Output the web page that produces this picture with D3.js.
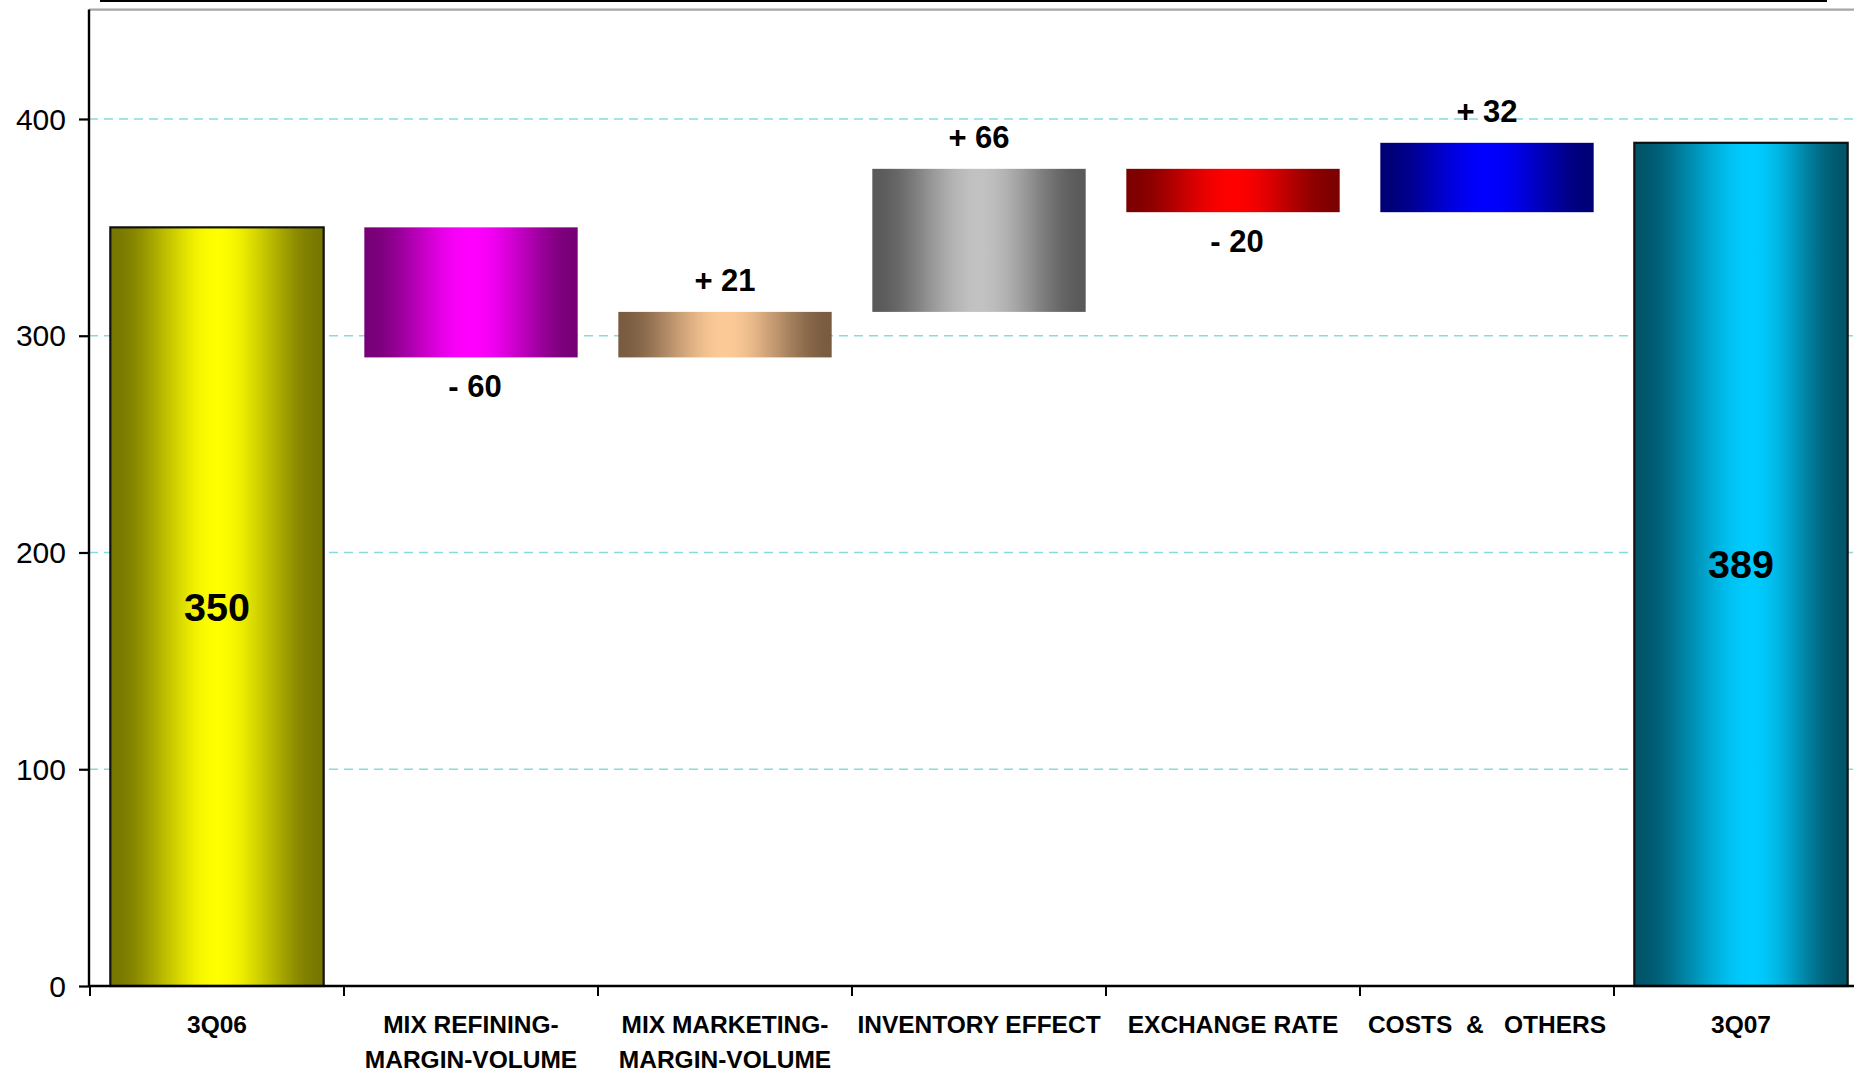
<!DOCTYPE html>
<html>
<head>
<meta charset="utf-8">
<script src="https://cdn.jsdelivr.net/npm/d3@7"></script>
<style>
  html, body { margin: 0; padding: 0; background: #fff; }
  svg { display: block; }
</style>
</head>
<body>
<div id="chart"></div>
<script>
// ---- data ----
const categories = ["3Q06", "MIX REFINING", "MIX MARKETING", "INVENTORY EFFECT", "EXCHANGE RATE", "COSTS & OTHERS", "3Q07"];
const categoryLines = [
  ["3Q06"],
  ["MIX REFINING-", "MARGIN-VOLUME"],
  ["MIX MARKETING-", "MARGIN-VOLUME"],
  ["INVENTORY EFFECT"],
  ["EXCHANGE RATE"],
  ["COSTS  &   OTHERS"],
  ["3Q07"]
];
const values = [350, -60, 21, 66, -20, 32, 389];
const barKinds = ["total", "delta", "delta", "delta", "delta", "delta", "total"];
const yTicks = [0, 100, 200, 300, 400];
const gridValues = [100, 200, 300, 400];
const yMax = 450;

// ---- style ----
const palette = [
  { edge: "#767600", mid: "#ffff00", peak: 0.5 },
  { edge: "#760076", mid: "#ff00ff", peak: 0.5 },
  { edge: "#785b40", mid: "#fdca97", peak: 0.5 },
  { edge: "#595959", mid: "#c2c2c2", peak: 0.5 },
  { edge: "#7c0000", mid: "#ff0000", peak: 0.5 },
  { edge: "#000076", mid: "#0000ff", peak: 0.5 },
  { edge: "#005468", mid: "#00ccff", peak: 0.55 }
];
const W = 1854, H = 1071;
const plot = { left: 89, bandStart: 90, bottom: 986, top: 10.6 };
const step = 254;

const svg = d3.select("#chart").append("svg")
  .attr("width", W).attr("height", H)
  .style("font-family", "'Liberation Sans', Arial, sans-serif");

svg.append("rect").attr("width", W).attr("height", H).attr("fill", "#fff");

// gradients
const defs = svg.append("defs");
const smooth = t => t * t * (3 - 2 * t);
palette.forEach((p, i) => {
  const g = defs.append("linearGradient").attr("id", "grad" + i)
    .attr("x1", "0%").attr("x2", "100%").attr("y1", "0%").attr("y2", "0%");
  const interp = d3.interpolateRgb(p.edge, p.mid);
  const n = 24;
  for (let k = 0; k <= n; k++) {
    const off = k / n;
    let t;
    if (off <= p.peak) t = off / p.peak; else t = (1 - off) / (1 - p.peak);
    g.append("stop").attr("offset", off).attr("stop-color", interp(smooth(t)));
  }
});

// scales
const x = d3.scaleBand()
  .domain(categories)
  .range([plot.bandStart, plot.bandStart + step * categories.length])
  .paddingInner(0.16)
  .paddingOuter(0.08);
const y = d3.scaleLinear().domain([0, yMax]).range([plot.bottom, plot.top]);

// running totals
let running = 0;
const bars = categories.map((c, i) => {
  let lo, hi;
  if (barKinds[i] === "total") {
    lo = 0; hi = values[i]; running = values[i];
  } else {
    const start = running, end = running + values[i];
    lo = Math.min(start, end); hi = Math.max(start, end); running = end;
  }
  return { cat: c, i, lo, hi, v: values[i], kind: barKinds[i] };
});

// top decorative lines
svg.append("line").attr("x1", 100).attr("x2", 1827).attr("y1", 1).attr("y2", 1)
  .attr("stroke", "#000").attr("stroke-width", 2);
svg.append("line").attr("x1", plot.left).attr("x2", W).attr("y1", y(yMax) - 1).attr("y2", y(yMax) - 1)
  .attr("stroke", "#a6a6a6").attr("stroke-width", 2.2);

// gridlines
svg.append("g").selectAll("line").data(gridValues).join("line")
  .attr("x1", plot.left).attr("x2", W)
  .attr("y1", d => y(d)).attr("y2", d => y(d))
  .attr("stroke", "#86dcdc").attr("stroke-width", 1.6)
  .attr("stroke-dasharray", "9,6");

// bars
svg.append("g").selectAll("rect").data(bars).join("rect")
  .attr("x", d => x(d.cat))
  .attr("width", x.bandwidth())
  .attr("y", d => y(d.hi))
  .attr("height", d => y(d.lo) - y(d.hi))
  .attr("fill", d => `url(#grad${d.i})`)
  .attr("stroke", d => d.kind === "total" ? "#111" : "none")
  .attr("stroke-width", 2.2);

// value labels
const fmtDelta = v => (v < 0 ? "- " : "+ ") + Math.abs(v);
svg.append("g").selectAll("text").data(bars).join("text")
  .attr("x", d => x(d.cat) + x.bandwidth() / 2 + (d.kind === "delta" && d.v < 0 ? 4 : 0))
  .attr("y", d => {
    if (d.kind === "total") return (y(d.lo) + y(d.hi)) / 2 + 14;
    return d.v >= 0 ? y(d.hi) - 21 : y(d.lo) + 40;
  })
  .attr("text-anchor", "middle")
  .attr("font-weight", "bold")
  .attr("font-size", d => d.kind === "total" ? 39.5 : 31)
  .attr("fill", "#000")
  .style("white-space", "pre")
  .text(d => d.kind === "total" ? String(d.v) : fmtDelta(d.v));

// y axis
const yAxis = d3.axisLeft(y).tickValues(yTicks).tickSize(10).tickPadding(13).tickFormat(d3.format("d"));
const gy = svg.append("g").attr("transform", `translate(${plot.left},0)`).call(yAxis);
gy.select(".domain").remove();
gy.selectAll(".tick line").attr("stroke", "#000").attr("stroke-width", 2.2);
gy.selectAll(".tick text").attr("font-size", 30).attr("fill", "#000")
  .attr("font-family", "'Liberation Sans', Arial, sans-serif").attr("dy", "0.34em");
svg.append("line").attr("x1", plot.left).attr("x2", plot.left)
  .attr("y1", y(yMax) - 1).attr("y2", plot.bottom + 1)
  .attr("stroke", "#000").attr("stroke-width", 2.4);

// x axis
svg.append("line").attr("x1", plot.left).attr("x2", W)
  .attr("y1", plot.bottom).attr("y2", plot.bottom)
  .attr("stroke", "#000").attr("stroke-width", 2.4);
const boundaries = categories.map(c => x(c) - x.step() * x.paddingInner() / 2)
  .concat([x(categories[categories.length - 1]) + x.bandwidth() + x.step() * x.paddingInner() / 2]);
svg.append("g").selectAll("line").data(boundaries).join("line")
  .attr("x1", d => d).attr("x2", d => d)
  .attr("y1", plot.bottom).attr("y2", plot.bottom + 10)
  .attr("stroke", "#000").attr("stroke-width", 2);

// category labels
const gl = svg.append("g");
categories.forEach((c, i) => {
  const t = gl.append("text")
    .attr("x", x(c) + x.bandwidth() / 2)
    .attr("y", 1033)
    .attr("text-anchor", "middle")
    .attr("font-weight", "bold")
    .attr("font-size", 24.5)
    .attr("fill", "#000")
    .style("white-space", "pre");
  categoryLines[i].forEach((line, k) => {
    t.append("tspan").attr("x", x(c) + x.bandwidth() / 2)
      .attr("y", 1033 + k * 35).text(line);
  });
});
</script>
</body>
</html>
